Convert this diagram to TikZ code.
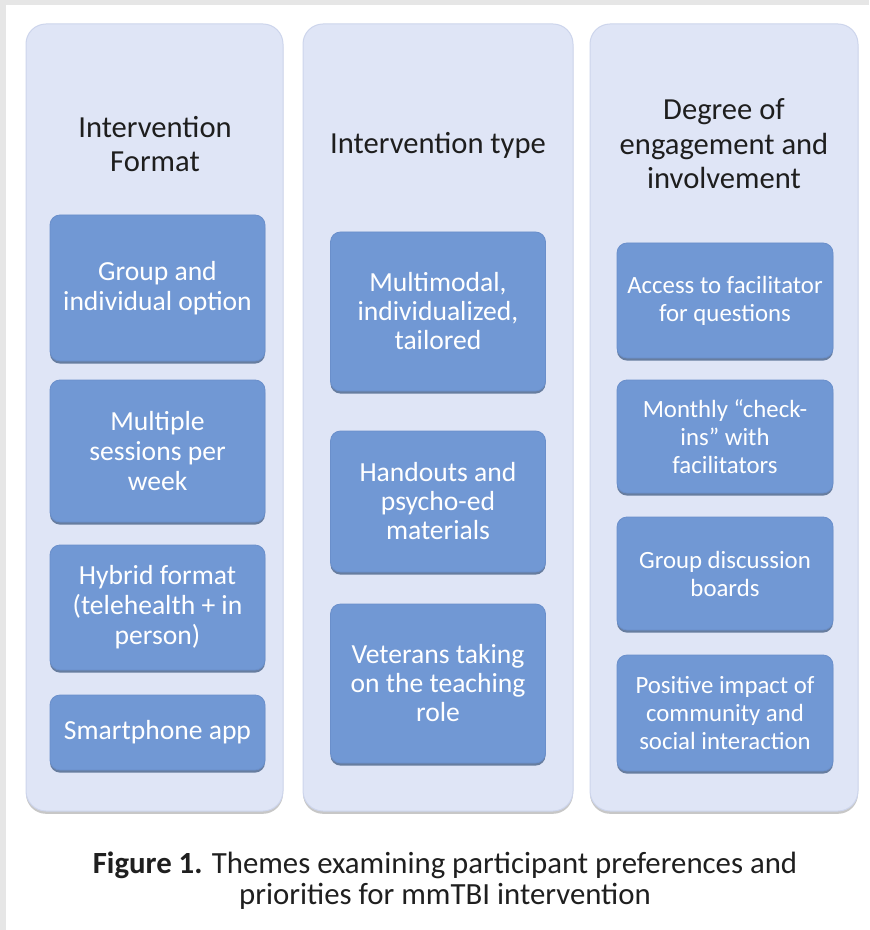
\documentclass[tikz,border=0pt]{standalone}
\usepackage{fontspec}
\setmainfont{Carlito}
\usetikzlibrary{shadows}

\definecolor{framegray}{HTML}{E6E6E6}
\definecolor{panelfill}{HTML}{DFE5F6}
\definecolor{panelline}{HTML}{CDD5EC}
\definecolor{itemfill}{HTML}{7198D4}
\definecolor{itemline}{HTML}{6A8FCB}
\definecolor{titletext}{HTML}{1E1E1E}

\begin{document}
\begin{tikzpicture}[x=0.5pt,y=-0.5pt,
  panel/.style={draw=panelline, fill=panelfill, line width=0.5pt, rounded corners=10pt,
    inner sep=0pt, minimum height=393.5pt,
    drop shadow={shadow xshift=0pt, shadow yshift=-1.4pt, fill=black!40, opacity=.55}},
  title/.style={text=titletext, align=center, font=\fontsize{15.3}{16.8}\selectfont},
  item/.style={draw=itemline, fill=itemfill, line width=0.4pt, rounded corners=5pt,
    text=white, align=center, inner sep=0pt, minimum width=107.5pt,
    font=\fontsize{13.8}{15}\selectfont,
    drop shadow={shadow xshift=0pt, shadow yshift=-1.3pt, fill=itemfill!65!black, opacity=.8}},
  small/.style={font=\fontsize{12.4}{14}\selectfont},
  mid/.style={font=\fontsize{13.8}{14.5}\selectfont}]

% page with grey edge
\fill[framegray] (0,0) rectangle (869,930);
\fill[white] (6,5) rectangle (869,930);
\useasboundingbox (0,0) rectangle (869,930);

% columns
\node[panel, minimum width=128.5pt] (fmt) at (154.5,417.5) {};
\node[panel, minimum width=135pt] (type) at (438,417.5) {};
\node[panel, minimum width=134pt] (engage) at (724,417.5) {};

\node[title] (fmt-title) at (155,144) {Intervention\\Format};
\node[title] (type-title) at (438,145) {Intervention type};
\node[title, font=\fontsize{15.3}{17.2}\selectfont] (engage-title) at (724,144) {Degree of\\engagement and\\involvement};

% Intervention Format
\node[item, minimum height=73pt] (fmt-1) at (157.5,288) {Group and\\individual option};
\node[item, minimum height=71pt] (fmt-2) at (157.5,451) {Multiple\\sessions per\\week};
\node[item, minimum height=62.5pt] (fmt-3) at (157.5,607.5) {Hybrid format\\(telehealth + in\\person)};
\node[item, minimum height=37.5pt] (fmt-4) at (157.5,732.5) {Smartphone app};

% Intervention type
\node[item, mid, minimum height=79.5pt] (type-1) at (438,311.5) {Multimodal,\\individualized,\\tailored};
\node[item, mid, minimum height=70.5pt] (type-2) at (438,501.5) {Handouts and\\psycho-ed\\materials};
\node[item, mid, minimum height=79.5pt] (type-3) at (438,683.5) {Veterans taking\\on the teaching\\role};

% Degree of engagement
\node[item, small, minimum width=108pt, minimum height=57.5pt] (engage-1) at (725,300.5) {Access to facilitator\\for questions};
\node[item, small, minimum width=108pt, minimum height=56.5pt] (engage-2) at (725,436.5) {Monthly “check-\\ins” with\\facilitators};
\node[item, small, minimum width=108pt, minimum height=56.5pt] (engage-3) at (725,573.5) {Group discussion\\boards};
\node[item, small, minimum width=108pt, minimum height=58pt] (engage-4) at (725,713) {Positive impact of\\community and\\social interaction};

\node[title, text=black!88, font=\fontsize{15.4}{15.5}\selectfont] (caption) at (445,881)
  {\textbf{Figure 1.} Themes examining participant preferences and\\priorities for mmTBI intervention};
\end{tikzpicture}
\end{document}
